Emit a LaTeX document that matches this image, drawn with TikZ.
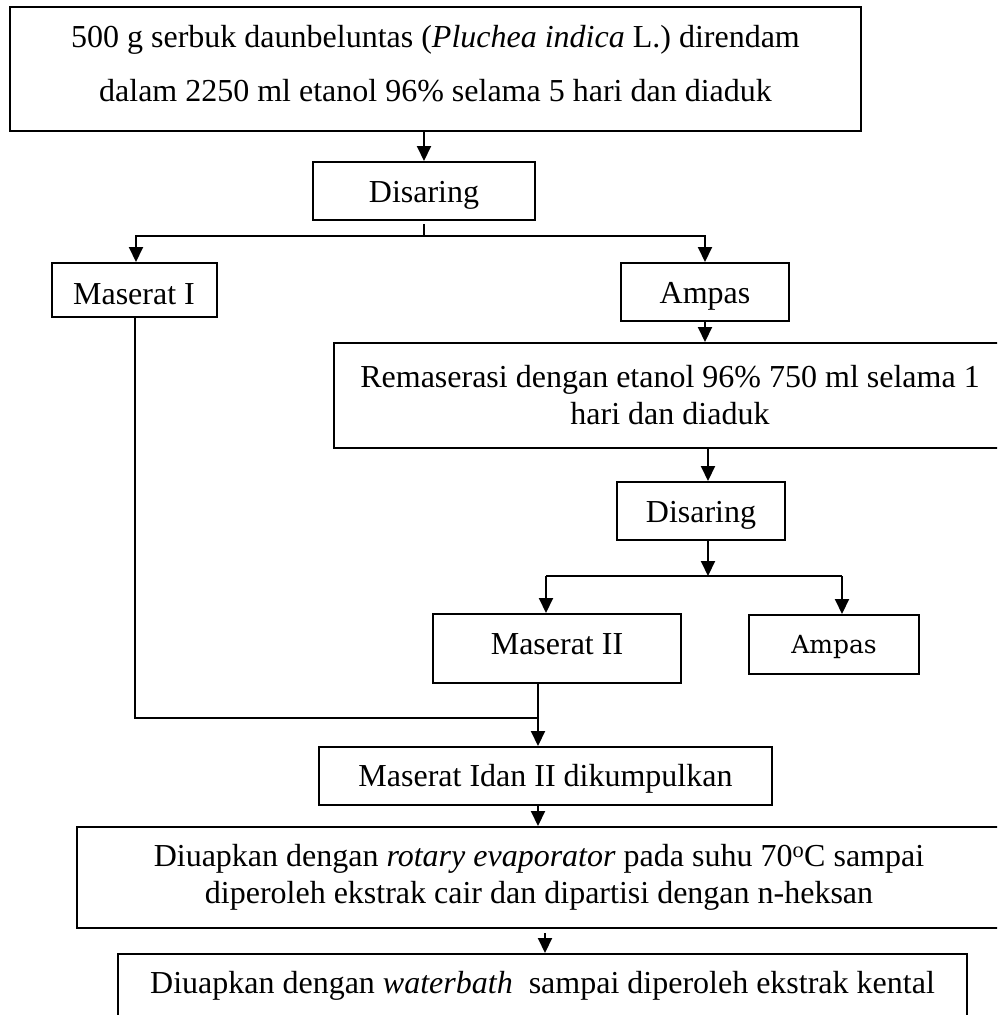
\documentclass[tikz,border=0pt]{standalone}
\usepackage{fontspec}
\setmainfont{Liberation Serif}
\newfontfamily\ampasfont{DejaVu Serif}
\usetikzlibrary{arrows.meta,calc}

\tikzset{
  box/.style={draw, line width=2pt, inner sep=0pt, align=center,
              font=\fontsize{32}{37}\selectfont},
  sbox/.style={draw, line width=2pt, inner sep=0pt, anchor=north,
               font=\fontsize{32}{37}\selectfont},
  link/.style={line width=2pt},
  arr/.style={line width=2pt, -{Triangle[length=15pt,width=14pt]}},
}

\begin{document}
\begin{tikzpicture}[x=1pt,y=-1pt]
\useasboundingbox (0,0) rectangle (997,1015);
\clip (0,0) rectangle (997,1015);

% first step: frame and its two-line text
\node[draw, line width=2pt, inner sep=0pt, minimum width=851pt, minimum height=124pt] (b1) at (435.5,69) {};
\node[align=center, inner sep=0pt, font=\fontsize{32}{54}\selectfont] (b1t) at (435.5,64)
  {500 g serbuk daunbeluntas (\textit{Pluchea indica} L.) direndam\\dalam 2250 ml etanol 96\% selama 5 hari dan diaduk};

% single-line steps (top edge given, baseline set by text height)
\node[sbox, minimum width=222pt, text height=40pt, text depth=18pt] (dis1) at (424,161) {Disaring};
\node[sbox, minimum width=165pt, text height=41pt, text depth=13pt] (m1) at (134,262) {Maserat I};
\node[sbox, minimum width=168pt, text height=40pt, text depth=18pt] (a1) at (705,262) {Ampas};
\node[sbox, minimum width=168pt, text height=40pt, text depth=18pt] (dis2) at (701,481) {Disaring};
\node[sbox, minimum width=248pt, text height=40pt, text depth=29pt] (m2) at (557,613) {Maserat II};
\node[sbox, font=\ampasfont\fontsize{25}{30}\selectfont,
      minimum width=170pt, text height=38pt, text depth=21pt] (a2) at (834,614) {Ampas};
\node[sbox, minimum width=453pt, text height=39pt, text depth=19pt] (mi) at (545.5,746) {Maserat Idan II dikumpulkan};
\node[sbox, minimum width=849pt, text height=39pt, text depth=40pt] (d2) at (542.5,953)
  {Diuapkan dengan \textit{waterbath}\ \ sampai diperoleh ekstrak kental};

% two-line steps
\node[box, minimum width=672pt, minimum height=105pt] (rem) at (670,395.5)
  {Remaserasi dengan etanol 96\% 750 ml selama 1\\hari dan diaduk};
\node[box, minimum width=924pt, minimum height=101pt] (d1) at (539,877.5)
  {Diuapkan dengan \textit{rotary evaporator} pada suhu 70\textsuperscript{o}C sampai\\diperoleh ekstrak cair dan dipartisi dengan n-heksan};

% branch and junction points
\coordinate (s1) at (424,236);
\coordinate (s2) at (708,576);
\coordinate (s2l) at (546,576);
\coordinate (s2r) at (842,576);
\coordinate (j) at (538,718);
\coordinate (xr) at (708,0);
\coordinate (k) at (545,0);

% connectors
\draw[arr] (b1.south -| dis1.north) -- (dis1.north);
\draw[link, shorten <=3pt] (dis1.south) -- (s1);
\draw[arr] (s1) -| ([xshift=2pt]m1.north);
\draw[arr] (s1) -| (a1.north);
\draw[arr] (a1.south) -- (a1.south |- rem.north);
\draw[arr] (xr |- rem.south) -- (xr |- dis2.north);
\draw[arr] (xr |- dis2.south) -- (s2);
\draw[link] (s2l) -- (s2r);
\draw[arr] (s2l) -- (s2l |- m2.north);
\draw[arr] (s2r) -- (s2r |- a2.north);
\draw[link] (j |- m2.south) -- (j);
\draw[link] ([xshift=1pt]m1.south) |- (j);
\draw[arr] (j) -- (j |- mi.north);
\draw[arr] (j |- mi.south) -- (j |- d1.north);
\draw[arr, shorten <=4pt] (k |- d1.south) -- (k |- d2.north);
\end{tikzpicture}
\end{document}
